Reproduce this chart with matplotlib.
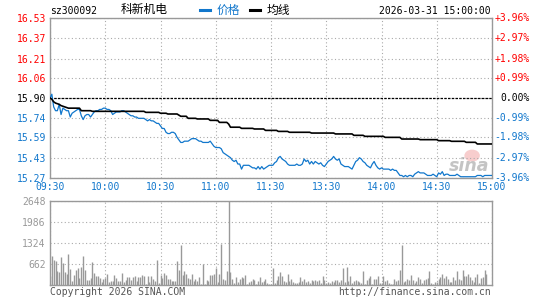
import numpy as np
import matplotlib
matplotlib.use("Agg")
import matplotlib.pyplot as plt
from matplotlib.lines import Line2D
from matplotlib.patches import Ellipse
from matplotlib.transforms import blended_transform_factory

# ---- data (one value per minute, 09:30 .. 15:00) ----
price = [
    15.90, 15.93, 15.83, 15.80, 15.80, 15.85, 15.77, 15.82, 15.81, 15.80,
    15.80, 15.75, 15.78, 15.79, 15.80, 15.81, 15.81, 15.76, 15.73, 15.76,
    15.77, 15.77, 15.75, 15.77, 15.79, 15.80, 15.80, 15.81, 15.81, 15.82,
    15.82, 15.81, 15.81, 15.80, 15.77, 15.78, 15.79, 15.79, 15.79, 15.80,
    15.80, 15.79, 15.78, 15.77, 15.76, 15.76, 15.75, 15.75, 15.74, 15.74,
    15.74, 15.74, 15.73, 15.72, 15.73, 15.72, 15.72, 15.71, 15.70, 15.70,
    15.68, 15.66, 15.66, 15.63, 15.62, 15.62, 15.63, 15.63, 15.62, 15.59,
    15.57, 15.55, 15.55, 15.56, 15.56, 15.56, 15.57, 15.58, 15.58, 15.58,
    15.57, 15.56, 15.56, 15.55, 15.55, 15.55, 15.55, 15.56, 15.54, 15.52,
    15.51, 15.51, 15.51, 15.50, 15.47, 15.46, 15.45, 15.44, 15.43, 15.41,
    15.40, 15.41, 15.38, 15.38, 15.34, 15.37, 15.37, 15.37, 15.37, 15.36,
    15.35, 15.35, 15.34, 15.36, 15.34, 15.36, 15.34, 15.35, 15.36, 15.37,
    15.37, 15.37, 15.39, 15.40, 15.43, 15.44, 15.42, 15.41, 15.40, 15.38,
    15.37, 15.37, 15.37, 15.37, 15.38, 15.37, 15.37, 15.38, 15.42, 15.40,
    15.41, 15.38, 15.40, 15.38, 15.40, 15.39, 15.38, 15.39, 15.37, 15.36,
    15.38, 15.40, 15.41, 15.42, 15.44, 15.42, 15.41, 15.42, 15.38, 15.37,
    15.36, 15.36, 15.36, 15.35, 15.34, 15.37, 15.40, 15.41, 15.43, 15.42,
    15.40, 15.39, 15.37, 15.36, 15.35, 15.38, 15.40, 15.37, 15.35, 15.34,
    15.35, 15.34, 15.34, 15.34, 15.34, 15.33, 15.34, 15.33, 15.33, 15.31,
    15.29, 15.29, 15.28, 15.29, 15.28, 15.29, 15.29, 15.28, 15.30, 15.31,
    15.32, 15.31, 15.31, 15.31, 15.30, 15.29, 15.29, 15.29, 15.30, 15.29,
    15.28, 15.31, 15.30, 15.32, 15.29, 15.30, 15.30, 15.29, 15.29, 15.29,
    15.29, 15.30, 15.29, 15.28, 15.28, 15.28, 15.28, 15.28, 15.28, 15.28,
    15.28, 15.28, 15.29, 15.29, 15.29, 15.28, 15.29, 15.29, 15.29, 15.29,
    15.29,
]

avg_price = [
    15.900, 15.890, 15.870, 15.860, 15.855, 15.850, 15.840, 15.835, 15.830, 15.825,
    15.820, 15.820, 15.820, 15.820, 15.820, 15.820, 15.820, 15.800, 15.800, 15.800,
    15.800, 15.800, 15.800, 15.795, 15.795, 15.795, 15.795, 15.795, 15.795, 15.795,
    15.795, 15.795, 15.795, 15.795, 15.795, 15.795, 15.795, 15.795, 15.795, 15.795,
    15.795, 15.795, 15.795, 15.795, 15.795, 15.795, 15.795, 15.795, 15.795, 15.795,
    15.795, 15.795, 15.787, 15.787, 15.787, 15.787, 15.787, 15.787, 15.787, 15.787,
    15.780, 15.780, 15.780, 15.780, 15.774, 15.774, 15.774, 15.774, 15.774, 15.774,
    15.765, 15.756, 15.756, 15.756, 15.756, 15.740, 15.740, 15.740, 15.740, 15.740,
    15.735, 15.735, 15.735, 15.735, 15.735, 15.735, 15.735, 15.724, 15.724, 15.724,
    15.724, 15.724, 15.708, 15.708, 15.708, 15.708, 15.708, 15.695, 15.670, 15.670,
    15.670, 15.670, 15.670, 15.670, 15.661, 15.661, 15.661, 15.661, 15.661, 15.661,
    15.661, 15.656, 15.656, 15.656, 15.656, 15.656, 15.656, 15.645, 15.645, 15.645,
    15.645, 15.645, 15.645, 15.645, 15.637, 15.637, 15.637, 15.637, 15.637, 15.637,
    15.630, 15.630, 15.630, 15.630, 15.630, 15.630, 15.630, 15.630, 15.630, 15.630,
    15.630, 15.630, 15.624, 15.624, 15.624, 15.624, 15.624, 15.624, 15.624, 15.624,
    15.624, 15.624, 15.624, 15.624, 15.624, 15.617, 15.617, 15.617, 15.617, 15.617,
    15.617, 15.617, 15.617, 15.617, 15.617, 15.606, 15.606, 15.606, 15.606, 15.606,
    15.606, 15.598, 15.598, 15.598, 15.598, 15.598, 15.598, 15.598, 15.598, 15.598,
    15.598, 15.598, 15.590, 15.590, 15.590, 15.590, 15.590, 15.590, 15.590, 15.590,
    15.590, 15.577, 15.577, 15.577, 15.577, 15.577, 15.577, 15.577, 15.577, 15.577,
    15.577, 15.572, 15.572, 15.572, 15.572, 15.572, 15.572, 15.572, 15.572, 15.572,
    15.572, 15.564, 15.564, 15.564, 15.564, 15.564, 15.564, 15.564, 15.559, 15.559,
    15.559, 15.559, 15.559, 15.559, 15.559, 15.559, 15.551, 15.551, 15.551, 15.551,
    15.551, 15.551, 15.538, 15.538, 15.538, 15.538, 15.538, 15.538, 15.538, 15.538,
    15.538,
]

volume = [
    273, 924, 798, 767, 452, 399, 893, 693, 410, 357,
    987, 515, 137, 326, 483, 546, 210, 578, 924, 483,
    147, 168, 231, 735, 389, 294, 294, 231, 105, 200,
    210, 357, 105, 137, 137, 326, 231, 137, 137, 389,
    105, 168, 242, 263, 158, 242, 294, 137, 263, 263,
    326, 294, 42, 294, 105, 294, 200, 137, 798, 74,
    315, 221, 389, 326, 200, 200, 137, 137, 137, 767,
    483, 1271, 305, 452, 357, 221, 200, 357, 137, 200,
    137, 263, 42, 662, 42, 168, 137, 326, 326, 357,
    546, 105, 357, 1302, 200, 168, 452, 3000, 420, 200,
    74, 263, 105, 200, 263, 231, 326, 42, 105, 137,
    200, 168, 42, 137, 263, 105, 137, 200, 74, 42,
    42, 546, 74, 168, 294, 420, 294, 137, 105, 357,
    137, 200, 105, 74, 74, 105, 263, 137, 200, 105,
    137, 74, 168, 137, 158, 137, 168, 74, 294, 168,
    74, 105, 74, 137, 105, 168, 147, 105, 168, 546,
    105, 578, 137, 294, 74, 137, 158, 137, 105, 74,
    452, 42, 168, 231, 294, 42, 200, 200, 294, 74,
    74, 294, 137, 168, 74, 42, 42, 200, 137, 168,
    483, 1271, 105, 137, 200, 158, 326, 168, 74, 137,
    263, 200, 74, 158, 200, 231, 452, 74, 42, 105,
    105, 200, 263, 357, 231, 284, 189, 105, 105, 263,
    168, 452, 200, 158, 483, 294, 294, 357, 263, 168,
    105, 263, 357, 74, 231, 263, 483, 357, 0, 0,
    0,
]

pre_close = 15.90
price_ticks = ["16.53", "16.37", "16.21", "16.06", "15.90", "15.74", "15.59", "15.43", "15.27"]
pct_labels = ["+3.96%", "+2.97%", "+1.98%", "+0.99%", "0.00%", "-0.99%", "-1.98%", "-2.97%", "-3.96%"]
time_labels = ["09:30", "10:00", "10:30", "11:00", "11:30", "13:30", "14:00", "14:30", "15:00"]
vol_ticks = ["662", "1324", "1986", "2648"]

BLUE = "#1177cc"
RED = "#ff0000"
GRAY = "#999999"
MONO = "DejaVu Sans Mono"
CJK = ["Noto Sans CJK SC", "DejaVu Sans"]

W, H = 545, 300
fig = plt.figure(figsize=(W / 100, H / 100), dpi=100)


def fx(px):
    return px / W


def fy(py):
    return 1 - py / H


ax = fig.add_axes([fx(50), fy(178), fx(492) - fx(50), fy(18) - fy(178)])
axv = fig.add_axes([fx(50), fy(285), fx(492) - fx(50), fy(201) - fy(285)])

grid_kw = dict(color="#aaaaaa", linestyle=(0, (1, 2.2)), linewidth=0.8)
n_min = len(time_labels) - 1
tick_pos = np.arange(0, 30 * n_min + 1, 30)

# ---- price panel ----
ax.plot(np.arange(len(price)), price, color=BLUE, lw=0.9, zorder=3)
ax.plot(np.arange(len(avg_price)), avg_price, color="black", lw=1.2, zorder=4)
ax.set_xlim(0, 30 * n_min)
ax.set_ylim(float(price_ticks[-1]), float(price_ticks[0]))
ax.set_yticks([float(t) for t in price_ticks])
ax.set_yticklabels(price_ticks)
ax.set_xticks(tick_pos)
ax.set_xticklabels(time_labels)
ax.grid(True, **grid_kw)
ax.axhline(pre_close, color="black", lw=0.9, dashes=(2, 1), zorder=2)
ax.tick_params(length=0, labelsize=7, pad=3)
for lab in ax.get_xticklabels():
    lab.set_color(BLUE)
    lab.set_fontfamily(MONO)
for lab, t in zip(ax.get_yticklabels(), price_ticks):
    v = float(t)
    lab.set_color(RED if v > pre_close else ("black" if v == pre_close else BLUE))
    lab.set_fontfamily(MONO)

trans = blended_transform_factory(ax.transAxes, ax.transData)
for t, p in zip(price_ticks, pct_labels):
    v = float(t)
    c = RED if v > pre_close else ("black" if v == pre_close else BLUE)
    ax.text(1 + 38 / 442, v, p, transform=trans, ha="right", va="center",
            fontsize=7, family=MONO, color=c)

# sina watermark
ax.add_patch(Ellipse((0.955, 0.14), 0.035, 0.075, transform=ax.transAxes,
                     facecolor="#f4b8b8", edgecolor="none", alpha=0.7, zorder=1))
ax.text(0.993, 0.075, "sina", transform=ax.transAxes, ha="right", va="center",
        fontsize=12.5, style="italic", weight="bold", color="#c4c4c4", zorder=1)

# ---- volume panel ----
axv.vlines(np.arange(len(volume)), 0, volume, colors=GRAY, lw=1.0)
axv.set_xlim(0, 30 * n_min)
axv.set_ylim(0, float(vol_ticks[-1]))
axv.set_xticks(tick_pos)
axv.set_xticklabels([])
axv.set_yticks([float(v) for v in vol_ticks])
axv.set_yticklabels(vol_ticks)
axv.grid(True, **grid_kw)
axv.tick_params(length=0, labelsize=7, pad=3, labelcolor=GRAY)
for lab in axv.get_yticklabels():
    lab.set_fontfamily(MONO)

for a in (ax, axv):
    for s in a.spines.values():
        s.set_color(GRAY)
        s.set_linewidth(1.0)

# ---- header / footer ----
fig.text(fx(50), fy(10.5), "sz300092", fontsize=7, family=MONO, va="center", ha="left")
fig.text(fx(121), fy(10), "科新机电", fontsize=8.5, family=CJK, va="center", ha="left")
fig.add_artist(Line2D([fx(200), fx(210)], [fy(9.5), fy(9.5)], color=BLUE, lw=2.2))
fig.text(fx(217), fy(10), "价格", fontsize=8.5, family=CJK, va="center", ha="left", color=BLUE)
fig.add_artist(Line2D([fx(250), fx(260)], [fy(9.5), fy(9.5)], color="black", lw=2.2))
fig.text(fx(267), fy(10), "均线", fontsize=8.5, family=CJK, va="center", ha="left")
fig.text(fx(491), fy(10.5), "2026-03-31 15:00:00", fontsize=7, family=MONO, va="center", ha="right")

fig.text(fx(50), fy(292), "Copyright 2026 SINA.COM", fontsize=7, family=MONO,
         va="center", ha="left", color="#555555")
fig.text(fx(491), fy(292), "http://finance.sina.com.cn", fontsize=7, family=MONO,
         va="center", ha="right", color="#555555")

fig.savefig("out.png", dpi=100)
